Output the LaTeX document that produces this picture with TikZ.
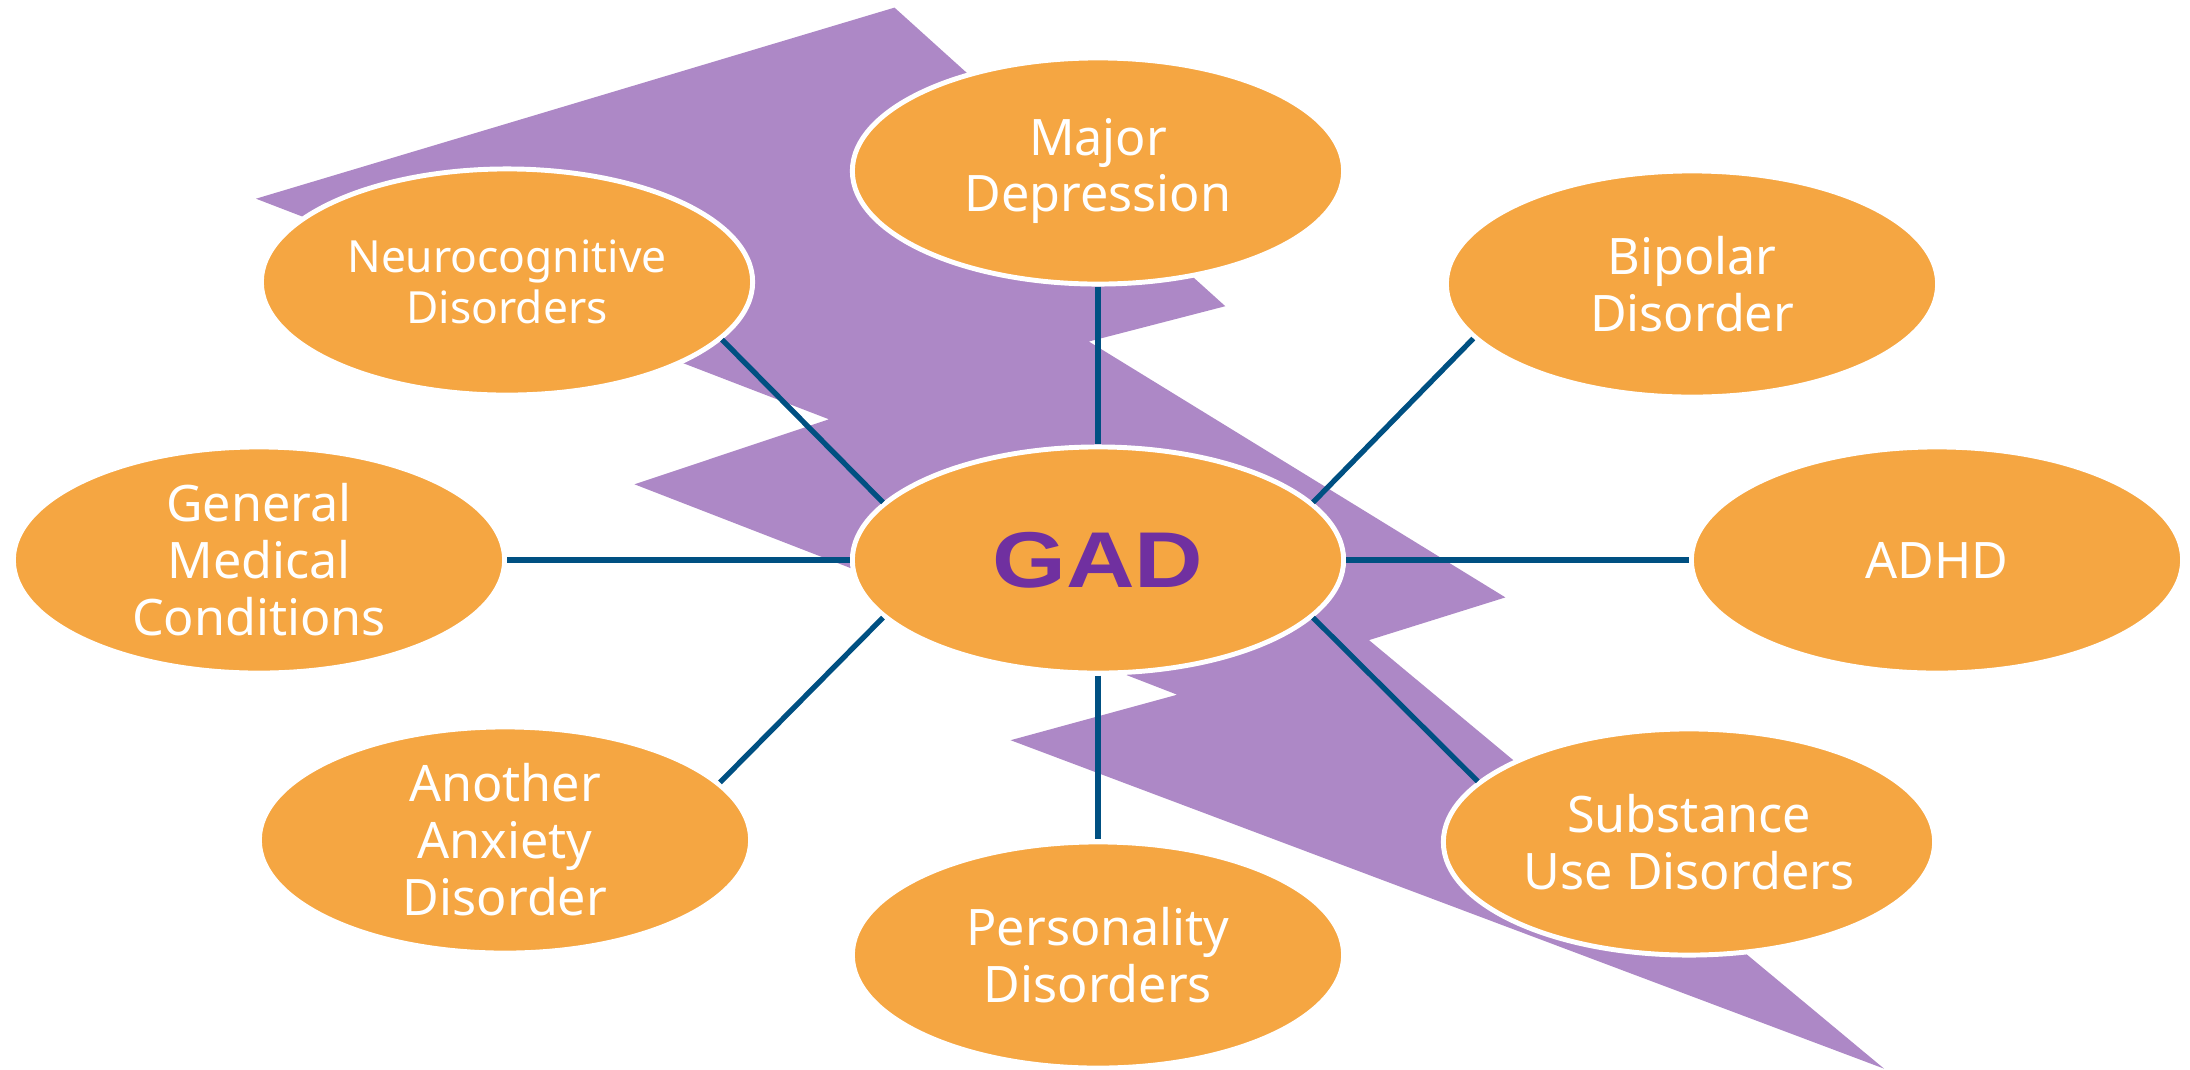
\documentclass[tikz,border=0pt]{standalone}
\usepackage{fontspec}
\setmainfont{Noto Sans}
\newfontfamily\gadfont[FakeStretch=1.2]{Liberation Sans}
\usetikzlibrary{shapes.geometric}
\definecolor{boltfill}{HTML}{AD88C6}
\definecolor{blobfill}{HTML}{F5A642}
\definecolor{linkcol}{HTML}{005082}
\definecolor{gadtext}{HTML}{7030A0}
\begin{document}
\begin{tikzpicture}[x=0.01cm,y=-0.01cm,
  topic/.style={ellipse, fill=blobfill, draw=white, line width=1.4pt,
    minimum width=4.91cm, minimum height=2.26cm, inner sep=0pt,
    text=white, align=center, font=\fontsize{14.3}{16.2}\selectfont},
  smalltopic/.style={topic, font=\fontsize{12.6}{14.7}\selectfont},
  hub/.style={topic, text=gadtext, font=\gadfont\fontsize{22.5}{24}\selectfont\bfseries},
  link/.style={draw=linkcol, line width=1.5pt}]
\useasboundingbox (0,0) rectangle (2190,1069);

% lightning bolt behind the map
\fill[boltfill] (256,198.7) -- (894.5,7.6) -- (1225.3,306.2) -- (1088.8,341.5)
  -- (1505.4,597.4) -- (1369.0,640.1) -- (1884,1068.6) -- (1010.6,740.2)
  -- (1177.2,694.7) -- (634.5,484.3) -- (829.0,419.3) -- cycle;

% topics
\node[hub] (gad) at (1098,560) {GAD};
\node[topic] (md) at (1098,171) {Major\\Depression};
\node[smalltopic] (neuro) at (507,282) {Neurocognitive\\Disorders};
\node[topic] (bipolar) at (1692,284) {Bipolar\\Disorder};
\node[topic] (genmed) at (259,560) {General\\Medical\\Conditions};
\node[topic] (adhd) at (1937,560) {ADHD};
\node[topic] (anxiety) at (505,840) {Another\\Anxiety\\Disorder};
\node[topic] (personality) at (1098,955) {Personality\\Disorders};
\node[topic] (substance) at (1689,842) {Substance\\Use Disorders};

% links to the hub
\draw[link] (md.south) -- (gad.north);
\draw[link] (gad.south) -- (personality.north);
\draw[link] (genmed.east) -- (gad.west);
\draw[link] (gad.east) -- (adhd.west);
\draw[link] (neuro.-15.6) -- (gad.165.5);
\draw[link] (bipolar.-166) -- (gad.15.3);
\draw[link] (anxiety.15.1) -- (gad.195.2);
\draw[link] (substance.164.7) -- (gad.-15.9);
\end{tikzpicture}
\end{document}
